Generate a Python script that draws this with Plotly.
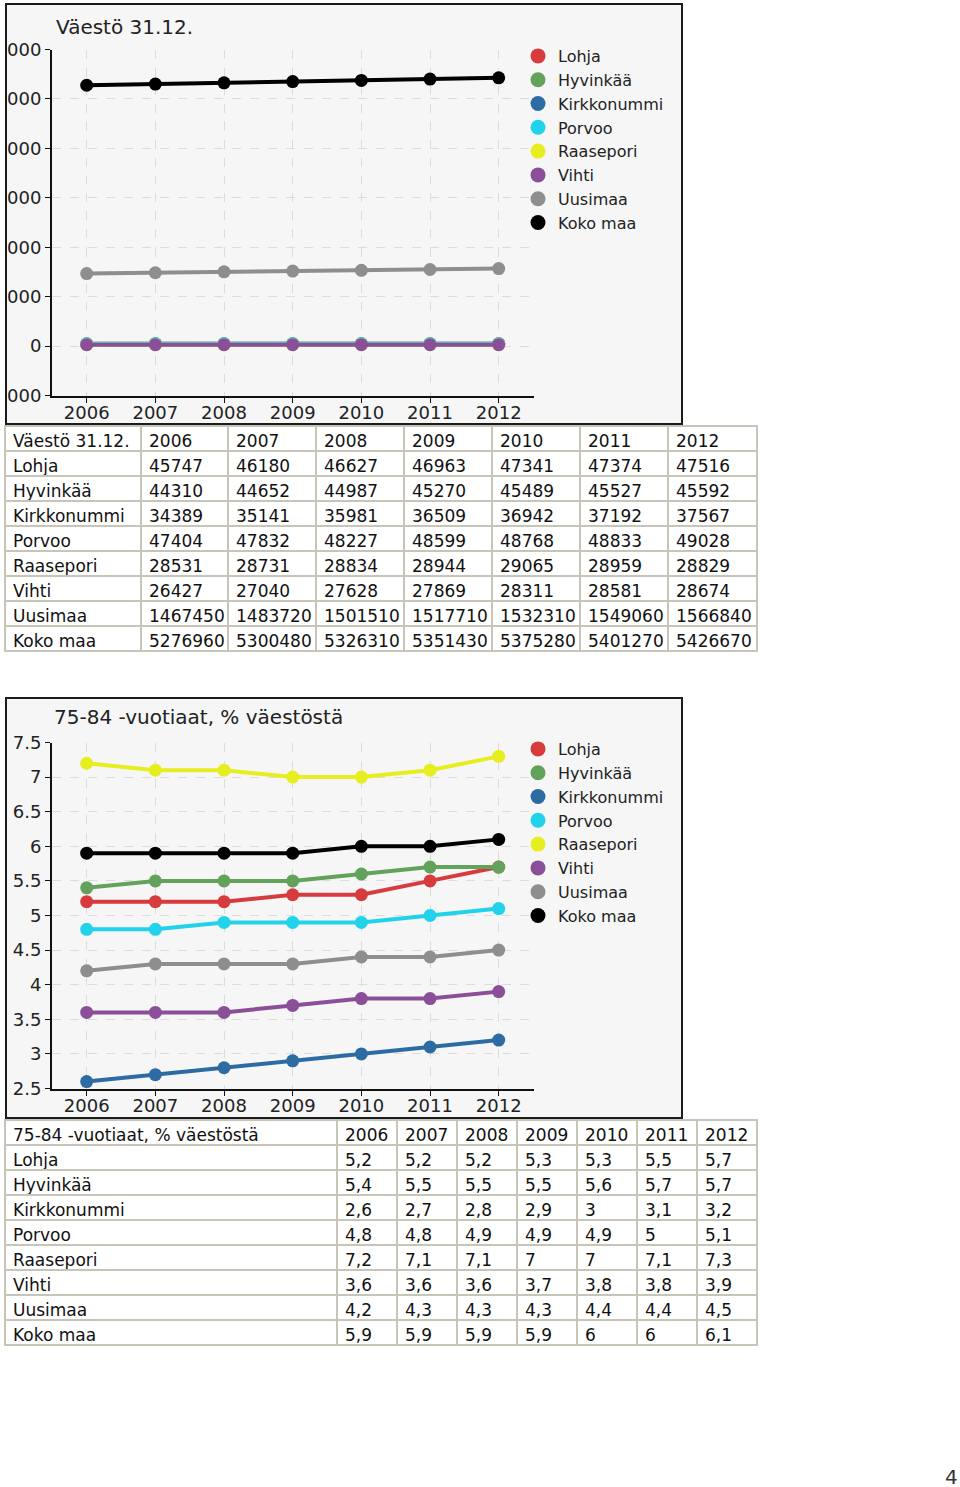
import plotly.graph_objects as go

# ---------------- data ----------------
years = ['2006', '2007', '2008', '2009', '2010', '2011', '2012']
series_names = ['Lohja', 'Hyvinkää', 'Kirkkonummi', 'Porvoo', 'Raasepori', 'Vihti', 'Uusimaa', 'Koko maa']
colors = ['#d83b3d', '#62a25a', '#2c6ca3', '#20d2ea', '#e6ee1f', '#8b4e99', '#8e8e8e', '#000000']

title_pop = 'Väestö 31.12.'
pop_lohja = [45747, 46180, 46627, 46963, 47341, 47374, 47516]
pop_hyvinkaa = [44310, 44652, 44987, 45270, 45489, 45527, 45592]
pop_kirkkonummi = [34389, 35141, 35981, 36509, 36942, 37192, 37567]
pop_porvoo = [47404, 47832, 48227, 48599, 48768, 48833, 49028]
pop_raasepori = [28531, 28731, 28834, 28944, 29065, 28959, 28829]
pop_vihti = [26427, 27040, 27628, 27869, 28311, 28581, 28674]
pop_uusimaa = [1467450, 1483720, 1501510, 1517710, 1532310, 1549060, 1566840]
pop_koko = [5276960, 5300480, 5326310, 5351430, 5375280, 5401270, 5426670]
pop_series = [pop_lohja, pop_hyvinkaa, pop_kirkkonummi, pop_porvoo,
              pop_raasepori, pop_vihti, pop_uusimaa, pop_koko]
pop_ticks = [-1000000, 0, 1000000, 2000000, 3000000, 4000000, 5000000, 6000000]

title_old = '75-84 -vuotiaat, % väestöstä'
old_lohja = [5.2, 5.2, 5.2, 5.3, 5.3, 5.5, 5.7]
old_hyvinkaa = [5.4, 5.5, 5.5, 5.5, 5.6, 5.7, 5.7]
old_kirkkonummi = [2.6, 2.7, 2.8, 2.9, 3.0, 3.1, 3.2]
old_porvoo = [4.8, 4.8, 4.9, 4.9, 4.9, 5.0, 5.1]
old_raasepori = [7.2, 7.1, 7.1, 7.0, 7.0, 7.1, 7.3]
old_vihti = [3.6, 3.6, 3.6, 3.7, 3.8, 3.8, 3.9]
old_uusimaa = [4.2, 4.3, 4.3, 4.3, 4.4, 4.4, 4.5]
old_koko = [5.9, 5.9, 5.9, 5.9, 6.0, 6.0, 6.1]
old_series = [old_lohja, old_hyvinkaa, old_kirkkonummi, old_porvoo,
              old_raasepori, old_vihti, old_uusimaa, old_koko]
old_ticks = [2.5, 3, 3.5, 4, 4.5, 5, 5.5, 6, 6.5, 7, 7.5]

page_number = '4'

# ---------------- helpers ----------------
W, H = 960, 1487
def px(x):
    return x / W
def py(y):
    return 1 - y / H

CHART_FONT = 'DejaVu Sans'
TABLE_FONT = 'DejaVu Sans'

fig = go.Figure()

def add_chart(series, xa, ya, legend_id):
    for name, vals, col in zip(series_names, series, colors):
        fig.add_trace(go.Scatter(
            x=years, y=vals, mode='lines+markers', name=name,
            line=dict(color=col, width=4), marker=dict(color=col, size=13),
            xaxis=xa, yaxis=ya, showlegend=False, hoverinfo='x+y+name'))
    for name, col in zip(series_names, colors):
        fig.add_trace(go.Scatter(
            x=[None], y=[None], mode='markers', name=name,
            marker=dict(color=col, size=15),
            xaxis=xa, yaxis=ya, showlegend=True, legend=legend_id))

add_chart(pop_series, 'x', 'y', 'legend')
add_chart(old_series, 'x2', 'y2', 'legend2')

def fmt_pop(v):
    return str(v)
def fmt_old(v):
    return ('%g' % v).replace('.', ',')

TABLE_LINE = '#c7c4b8'
def add_table(title, series, fmt, widths, top, bottom):
    # non-breaking spaces keep the header on a single line, as in the source
    header = [title.replace(' ', '\u00a0')] + years
    cols = [series_names] + [[fmt(s[i]) for s in series] for i in range(len(years))]
    fig.add_trace(go.Table(
        domain=dict(x=[px(5), px(757)], y=[py(bottom), py(top)]),
        columnwidth=widths,
        header=dict(values=header, height=25, align='left',
                    fill=dict(color='white'), line=dict(color=TABLE_LINE, width=2),
                    font=dict(family=TABLE_FONT, size=17, color='#111111')),
        cells=dict(values=cols, height=25, align='left',
                   fill=dict(color='white'), line=dict(color=TABLE_LINE, width=2),
                   font=dict(family=TABLE_FONT, size=17, color='#111111'))))

add_table(title_pop, pop_series, fmt_pop, [136, 87, 88, 88, 88, 88, 88, 89], 426, 655)
add_table(title_old, old_series, fmt_old, [332, 60, 60, 60, 60, 60, 60, 60], 1120, 1349)

axis_common = dict(showline=True, linecolor='#111111', linewidth=2,
                   ticks='outside', ticklen=5, tickcolor='#111111', tickwidth=1,
                   showgrid=True, gridcolor='#dcdcdc', griddash='dash', gridwidth=1,
                   zeroline=False, automargin=False,
                   tickfont=dict(family=CHART_FONT, size=18, color='#222222'))

fig.update_layout(
    width=W, height=H, margin=dict(l=0, r=0, t=0, b=0, autoexpand=False),
    paper_bgcolor='white', plot_bgcolor='rgba(0,0,0,0)',
    xaxis=dict(axis_common, type='category', range=[-0.505, 6.514],
               domain=[px(52), px(534)], anchor='y', ticklabelstandoff=-5),
    yaxis=dict(axis_common, range=[-1000000, 6000000], tickvals=pop_ticks,
               tickformat='d', domain=[py(395.5), py(49.5)], anchor='x'),
    xaxis2=dict(axis_common, type='category', range=[-0.505, 6.514],
                domain=[px(52), px(534)], anchor='y2', ticklabelstandoff=-5),
    yaxis2=dict(axis_common, range=[2.5, 7.5], tickvals=old_ticks,
                domain=[py(1088.5), py(742.5)], anchor='x2'),
    legend=dict(x=px(518), y=py(39), xanchor='left', yanchor='top',
                bgcolor='rgba(0,0,0,0)', itemwidth=30, tracegroupgap=0,
                font=dict(family=CHART_FONT, size=16, color='#222222')),
    legend2=dict(x=px(518), y=py(732), xanchor='left', yanchor='top',
                 bgcolor='rgba(0,0,0,0)', itemwidth=30, tracegroupgap=0,
                 font=dict(family=CHART_FONT, size=16, color='#222222')),
    showlegend=True,
)

shapes = []
for top, bottom in [(4, 424), (698, 1118)]:
    shapes.append(dict(type='rect', xref='paper', yref='paper', layer='below',
                       x0=px(6), x1=px(682), y0=py(bottom), y1=py(top),
                       fillcolor='#f6f6f6', line=dict(width=0)))
    shapes.append(dict(type='rect', xref='paper', yref='paper', layer='above',
                       x0=0, x1=px(6), y0=py(bottom), y1=py(top),
                       fillcolor='white', line=dict(width=0)))
    shapes.append(dict(type='rect', xref='paper', yref='paper', layer='above',
                       x0=px(6), x1=px(682), y0=py(bottom), y1=py(top),
                       fillcolor='rgba(0,0,0,0)', line=dict(color='#1c1c1c', width=2)))
fig.update_layout(shapes=shapes)

annotations = [
    dict(text=title_pop, x=px(54), y=py(27), xref='paper', yref='paper',
         xanchor='left', yanchor='middle', showarrow=False,
         font=dict(family=CHART_FONT, size=20, color='#222222')),
    dict(text=title_old, x=px(52), y=py(717), xref='paper', yref='paper',
         xanchor='left', yanchor='middle', showarrow=False,
         font=dict(family=CHART_FONT, size=20, color='#222222')),
    dict(text=page_number, x=px(951), y=py(1477), xref='paper', yref='paper',
         xanchor='center', yanchor='middle', showarrow=False,
         font=dict(family=CHART_FONT, size=20, color='#333333')),
]
fig.update_layout(annotations=annotations)

fig.write_html('out.html')
